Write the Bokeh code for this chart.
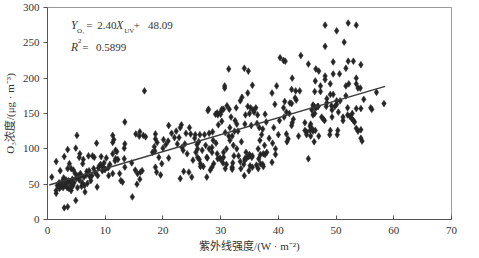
from bokeh.plotting import figure
from bokeh.models import Range1d, FixedTicker, Label, ColumnDataSource
from bokeh.embed import file_html
from bokeh.resources import INLINE

# ---- data ----
uv = [
 0.75,1.5,1.5,1.5,2.2,2.4,2.9,2.9,3.5,3.5,3.2,2.6,3.8,4.1,4.4,4.1,4.9,5.1,4.9,5.6,5.7,6.1,6.4,6.5,7.1,7.8,7.2,7.5,8.5,9.3,8.6,9.0,9.5,9.8,
 2.0,2.3,2.7,3.0,3.0,3.3,3.6,3.9,4.0,4.3,4.6,2.8,3.4,3.7,4.2,5.0,5.3,5.5,5.8,6.0,6.3,6.7,6.9,7.3,7.7,5.2,4.8,4.5,3.5,6.2,5.9,2.1,1.7,8.0,8.3,8.7,9.2,9.6,10.0,8.8,5.5,6.8,
 10.5,11.3,11.3,11.8,11.8,11.3,12.5,12.7,13.3,13.4,13.4,13.4,14.6,14.7,15.5,15.3,16.0,16.6,16.4,15.6,18.2,18.7,18.7,18.7,18.9,19.6,16.8,10.8,12.0,11.5,13.0,15.9,17.0,16.1,18.5,
 11.3,13.3,19.0,20.0,19.3,18.6,19.8,15.2,16.0,11.7,12.2,10.2,10.6,9.9,8.1,
 20.1,20.5,21.0,22.5,22.8,23.0,23.2,23.3,24.2,24.5,25.2,25.9,26.5,26.8,27.6,28.5,28.8,29.4,29.9,23.0,23.6,27.6,20.9,21.0,22.0,23.8,23.5,25.7,26.0,26.3,27.4,28.0,28.5,27.7,29.5,30.5,
 24.0,24.8,25.6,26.4,27.2,28.0,28.6,27.8,29.5,30.0,30.5,29.6,30.2,27.9,29.4,29.1,30.0,30.2,30.7,30.7,31.4,31.1,31.5,25.5,26.2,28.7,29.2,21.5,22.3,25.0,27.0,28.2,26.0,24.6,
 26.5,28.5,30.0,30.4,30.8,32.0,32.0,
 34.1,34.8,35.5,39.7,38.9,34.7,33.7,33.4,32.7,34.7,35.2,35.6,36.1,35.8,36.4,35.0,34.3,39.4,40.9,37.7,31.8,32.5,32.8,31.6,32.4,33.0,34.2,35.3,36.7,37.3,37.9,36.3,39.2,40.2,41.0,
 31.6,32.2,32.8,33.6,32.3,33.1,34.2,34.4,35.0,35.5,36.5,36.8,37.1,37.6,38.0,38.4,39.0,39.5,40.0,32.1,33.4,34.0,35.1,37.3,36.5,34.1,34.9,35.5,36.2,36.9,37.4,38.9,39.5,36.9,37.4,37.7,34.5,35.0,35.4,33.5,32.0,31.0,30.5,31.0,31.4,30.8,32.0,
 34.2,34.8,36.6,
 48.1,52.1,53.5,50.1,48.1,51.4,43.9,41.2,45.2,49.5,52.1,53.0,54.3,46.5,47.0,51.7,42.4,48.1,48.1,49.5,50.6,53.5,53.5,53.8,54.2,46.4,47.3,49.0,51.7,52.2,42.3,43.0,43.7,46.3,47.3,42.9,49.0,49.5,48.4,50.1,50.7,51.7,57.0,58.3,42.0,46.0,46.9,56.0,40.3,40.9,
 56.2,53.5,54.3,52.0,52.0,52.4,52.7,53.0,53.2,52.8,51.2,51.2,50.4,49.3,49.8,50.1,49.3,49.2,48.3,48.4,47.5,47.8,48.0,53.5,54.3,54.3,49.0,50.3,46.3,46.0,45.8,46.5,46.8,46.2,45.6,45.5,45.9,46.0,45.5,46.4,44.6,44.6,45.6,47.0,45.2,
 41.4,41.7,42.3,42.4,42.6,41.9,41.4,42.3,43.1,41.1,
 41.5,43.5,44.9,44.9,46.2,48.9,50.2,53.8,54.5,54.8,
]
o3 = [
 60,82,41,37,69,50,89,16.5,18,99,56,55,79,72,48,41,27,119,101,93,65,79,48,39,90,90,69,55,108,89,46,76,69,80,
 52,47,45,53,48,51,55,53,50,57,52,59,45,44,46,58,62,56,62,52,60,63,51,61,62,45,65,70,72,85,47,44,48,72,66,62,78,74,71,73,88,68,
 73,119,93,98,86,65,65,55,86,138,107,74,80,32,50,121,124,119,69,65,95,121,114,74,67,63,182,78,96,113,53,118,117,67,103,
 109,101,109,101,88,97,79,70,57,83,85,87,62,71,88,
 113,106,87,107,116,58,134,102,93,67,84,106,79,98,88,102,79,93,87,130,68,60,111,133,116,107,98,95,88,85,105,100,95,87,86,88,
 122,121,120,120,120,122,124,154,148,152,156,134,139,156,151,149,149,156,189,186,213,161,156,115,110,112,108,122,125,60,75,70,100,130,
 75,74,85,80,72,71,74,
 214,210,190,189,179,179,173,168,158,160,158,155,158,152,148,150,148,163,158,149,145,140,135,130,125,125,135,133,130,128,138,136,130,140,145,
 112,105,100,110,90,90,86,95,92,90,100,112,120,105,95,115,108,100,120,80,82,78,76,78,72,62,69,74,77,79,75,81,92,92,93,92,87,90,88,72,73,78,95,100,118,123,118,
 84,89,86,
 275,278,275,267,245,251,232,224,220,223,224,224,219,213,210,214,200,203,198,206,206,200,192,186,186,196,189,192,189,192,184,182,182,181,181,172,177,177,171,168,168,175,180,164,165,162,160,158,229,225,
 156,157,157,158,148,146,143,140,138,150,145,140,152,155,160,163,145,161,160,165,145,142,140,129,127,115,126,126,150,148,155,158,160,160,135,132,128,125,126,126,137,126,118,118,86,
 121,114,133,137,142,150,152,164,169,167,
 110,118,124,120,110,120,120,125,111,170,
]

slope = 2.40
intercept = 48.09
fit_x = [0.3, 58.5]
fit_y = [slope * v + intercept for v in fit_x]

x_ticks = [0, 10, 20, 30, 40, 50, 60, 70]
y_ticks = [0, 50, 100, 150, 200, 250, 300]

n = min(len(uv), len(o3))
src = ColumnDataSource(dict(x=uv[:n], y=o3[:n]))

SERIF = "Liberation Serif, Noto Sans CJK SC"
INK = "#262626"

p = figure(width=479, height=258, output_backend="svg", toolbar_location=None,
           x_range=Range1d(0, 70), y_range=Range1d(0, 300),
           min_border_left=46, min_border_right=28, min_border_top=7, min_border_bottom=39)
p.background_fill_color = "white"
p.border_fill_color = "white"
p.outline_line_color = "#9a9a9a"
p.outline_line_width = 1
p.xgrid.visible = False
p.ygrid.visible = False

p.scatter("x", "y", source=src, marker="diamond", size=6.8,
          fill_color=INK, line_color=INK, line_width=0.5)
p.line(fit_x, fit_y, line_color="#3a3a3a", line_width=1.4)

for ax in (p.xaxis, p.yaxis):
    ax.axis_line_color = "#555555"
    ax.major_tick_line_color = "#555555"
    ax.minor_tick_line_color = None
    ax.major_label_text_font = SERIF
    ax.major_label_text_font_size = "11px"
    ax.major_label_text_color = "#333333"
    ax.axis_label_text_font = SERIF
    ax.axis_label_text_font_size = "11px"
    ax.axis_label_text_font_style = "normal"
    ax.axis_label_text_color = "#333333"

p.xaxis.ticker = FixedTicker(ticks=x_ticks)
p.yaxis.ticker = FixedTicker(ticks=y_ticks)
p.xaxis.major_tick_in = 4
p.xaxis.major_tick_out = 0
p.yaxis.major_tick_in = 0
p.yaxis.major_tick_out = 4
p.xaxis.major_label_standoff = 7
p.yaxis.major_label_standoff = 4
p.xaxis.axis_label = "紫外线强度/(W · m⁻²)"
p.yaxis.axis_label = "O₃浓度/(μg · m⁻³)"
p.xaxis.axis_label_standoff = 3
p.yaxis.axis_label_standoff = 4

def lab(x, y, t, size="11px", style="normal"):
    p.add_layout(Label(x=x, y=y, text=t, text_font=SERIF, text_font_size=size,
                       text_font_style=style, text_color="#333333",
                       text_baseline="middle", text_align="left"))

lab(4.09, 275, "Y", "11.5px", "italic")
lab(5.1, 267, "O₃", "7px")
lab(6.7, 275, "=")
lab(8.6, 275, "2.40")
lab(11.9, 275, "X", "11.5px", "italic")
lab(13.3, 267, "UV", "7px")
lab(14.95, 275, "+")
lab(17.4, 275, "48.09")
lab(4.09, 244, "R", "11.5px", "italic")
lab(5.3, 252, "2", "7px")
lab(6.0, 244, "=")
lab(8.4, 244, "0.5899")

open("out.html", "w").write(file_html(p, INLINE))
